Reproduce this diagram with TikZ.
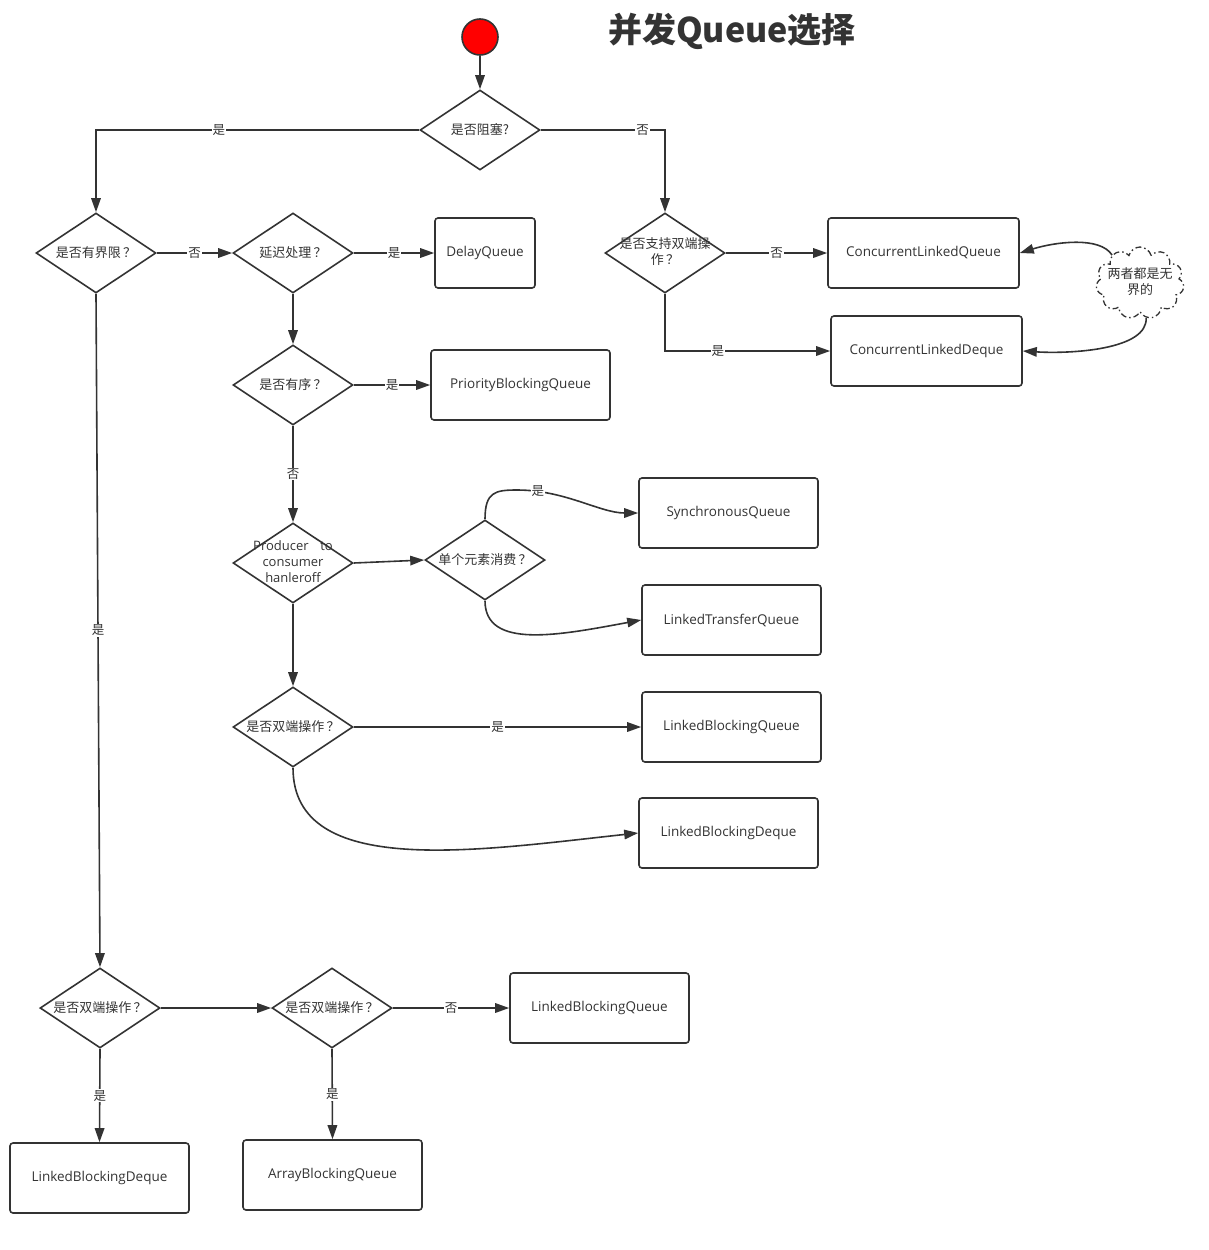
\documentclass[tikz,border=0pt]{standalone}
\usepackage{fontspec}
\setmainfont{Open Sans}
\newfontfamily\cjk{Noto Sans CJK SC}
\usetikzlibrary{arrows.meta,shapes.geometric,shapes.symbols}
\definecolor{ink}{HTML}{333333}
\definecolor{startred}{HTML}{FF0000}
\begin{document}
\begin{tikzpicture}[x=1pt,y=-1pt,
  every node/.style={text=ink},
  flow/.style={draw=ink, line width=1.6pt, -{Triangle[length=14pt,width=9.5pt]}},
  box/.style={draw=ink, line width=1.6pt, rounded corners=3pt, minimum height=70pt,
    inner sep=0pt, font=\fontsize{13.5}{16}\selectfont},
  dec/.style={draw=ink, line width=1.6pt, diamond, minimum width=120pt, minimum height=80pt,
    inner sep=0pt, font=\cjk\fontsize{13}{16}\selectfont},
  lbl/.style={fill=white, inner sep=1pt, font=\cjk\fontsize{12.5}{14}\selectfont},
]
\useasboundingbox (0,0) rectangle (1209,1250);

% start and title
\node[circle, draw=ink, fill=startred, line width=1.6pt, minimum size=36pt, inner sep=0pt] (st) at (480,37) {};
\node[font=\cjk\bfseries\fontsize{34}{40}\selectfont] (title) at (732,31) {并发Queue选择};

% decisions
\node[dec] (d1) at (480,130) {\makebox[0pt]{是否阻塞?}};
\node[dec] (d2) at (96,253) {\makebox[0pt]{是否有界限\,？}};
\node[dec] (d4) at (293,253) {\makebox[0pt]{延迟处理\,？}};
\node[dec] (d3) at (665,253) {\makebox[0pt]{\begin{tabular}{@{}c@{}}是否支持双端操\\作\,？\end{tabular}}};
\node[dec] (d5) at (293,385) {\makebox[0pt]{是否有序\,？}};
\node[dec] (d6) at (293,563) {\makebox[0pt]{\fontspec{Open Sans}\fontsize{13}{16}\selectfont
  \begin{tabular}{@{}c@{}}Producer\hspace{0.9em}to\\consumer\\hanleroff\end{tabular}}};
\node[dec] (d7) at (485,560) {\makebox[0pt]{单个元素消费\,？}};
\node[dec] (d8) at (293,727) {\makebox[0pt]{是否双端操作\,？}};
\node[dec] (d9) at (100,1008) {\makebox[0pt]{是否双端操作\,？}};
\node[dec] (d10) at (332,1008) {\makebox[0pt]{是否双端操作\,？}};

% queue classes
\node[box, minimum width=100pt] (delay) at (485,253) {DelayQueue};
\node[box, minimum width=179pt] (prio) at (520.5,385) {PriorityBlockingQueue};
\node[box, minimum width=179pt] (sync) at (728.5,513) {SynchronousQueue};
\node[box, minimum width=179pt] (ltq) at (731.5,620) {LinkedTransferQueue};
\node[box, minimum width=179pt] (lbqa) at (731.5,727) {LinkedBlockingQueue};
\node[box, minimum width=179pt] (lbda) at (728.5,833) {LinkedBlockingDeque};
\node[box, minimum width=191pt] (clq) at (923.5,253) {ConcurrentLinkedQueue};
\node[box, minimum width=191pt] (cld) at (926.5,351) {ConcurrentLinkedDeque};
\node[box, minimum width=179pt] (lbqb) at (599.5,1008) {LinkedBlockingQueue};
\node[box, minimum width=179pt] (abq) at (332.5,1175) {ArrayBlockingQueue};
\node[box, minimum width=179pt] (lbdb) at (99.5,1178) {LinkedBlockingDeque};

% note cloud
\node[cloud, cloud puffs=11, aspect=1.2, draw=ink, line width=1.3pt,
  dash pattern=on 6pt off 3pt on 1.5pt off 3pt,
  minimum width=88pt, minimum height=72pt, inner sep=0pt,
  font=\cjk\fontsize{13}{16}\selectfont] (cl) at (1140,283)
  {\makebox[0pt]{\begin{tabular}{@{}c@{}}两者都是无\\界的\end{tabular}}};

% connectors
\draw[flow] (st) -- (d1);
\draw[flow] (d1.west) -| node[lbl, pos=0.31] {是} (d2.north);
\draw[flow] (d1.east) -| node[lbl, pos=0.41] {否} (d3.north);
\draw[flow] (d2.east) -- node[lbl] {否} (d4.west);
\draw[flow] (d4.east) -- node[lbl] {是} (delay.west);
\draw[flow] (d4.south) -- (d5.north);
\draw[flow] (d5.east) -- node[lbl] {是} (prio.west);
\draw[flow] (d5.south) -- node[lbl] {否} (d6.north);
\draw[flow] (d6.east) -- (d7.west);
\draw[flow] (d7.north) .. controls (485,492) and (495,490) .. (517,490)
  .. controls (565,490) and (600,513) .. node[lbl, pos=0.15] {是} (sync.west);
\draw[flow] (d7.south) .. controls (485,650) and (560,635) .. (ltq.west);
\draw[flow] (d6.south) -- (d8.north);
\draw[flow] (d8.east) -- node[lbl] {是} (lbqa.west);
\draw[flow] (d8.south) .. controls (293,880) and (480,850) .. (lbda.west);
\draw[flow] (d3.east) -- node[lbl] {否} (clq.west);
\draw[flow] (d3.south) |- node[lbl, pos=0.66] {是} (cld.west);
\draw[flow] (cl.135) .. controls (1100,236) and (1055,242) .. (clq.east);
\draw[flow] (cl.-80) .. controls (1148,350) and (1070,354) .. (cld.east);
\draw[flow] (d2.south) -- node[lbl] {是} (d9.north);
\draw[flow] (d9.east) -- (d10.west);
\draw[flow] (d10.east) -- node[lbl] {否} (lbqb.west);
\draw[flow] (d10.south) -- node[lbl] {是} (abq.north);
\draw[flow] (d9.south) -- node[lbl] {是} (lbdb.north);
\end{tikzpicture}
\end{document}
